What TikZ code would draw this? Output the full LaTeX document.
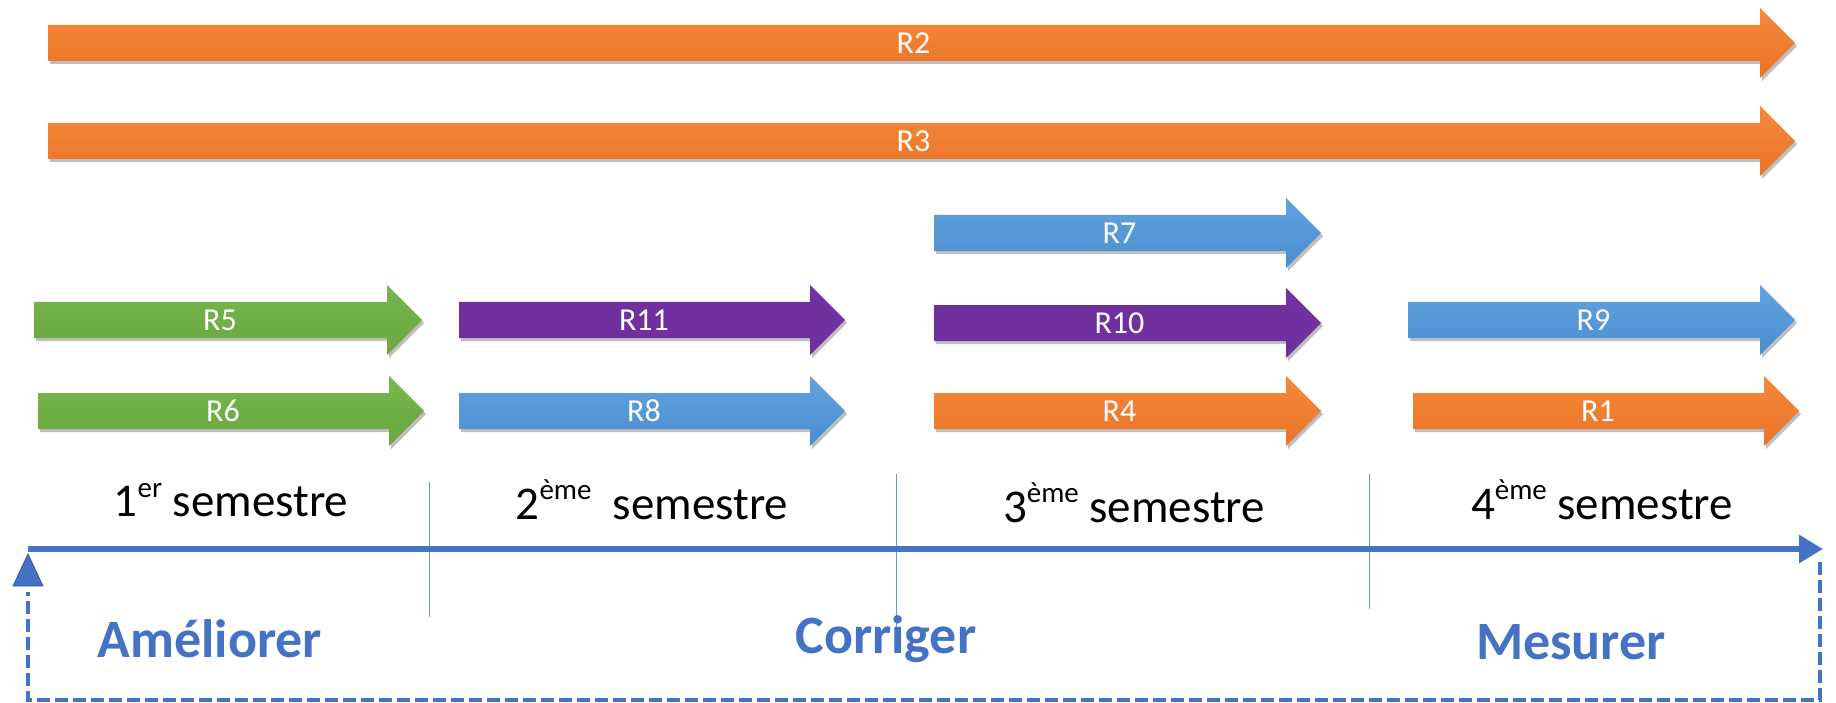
\documentclass[tikz,border=0pt]{standalone}
\usepackage{fontspec}
\setmainfont{Carlito}
\usetikzlibrary{shadows,arrows.meta}
\definecolor{orT}{HTML}{F38A3C}\definecolor{orB}{HTML}{EC7226}
\definecolor{grT}{HTML}{78B64F}\definecolor{grB}{HTML}{68A83F}
\definecolor{blT}{HTML}{62A2DE}\definecolor{blB}{HTML}{4A8ED1}
\definecolor{puT}{HTML}{7131A1}\definecolor{puB}{HTML}{6F2F9F}
\definecolor{tl}{HTML}{4472C4}
\newcommand\myarrow[6]{%
  \path[drop shadow={shadow xshift=2pt,shadow yshift=-3pt,opacity=0.25,fill=black},
        top color=#5T, bottom color=#5B]
    (#2,#4-18) -- (#3-35,#4-18) -- (#3-35,#4-35) -- (#3,#4) -- (#3-35,#4+35)
    -- (#3-35,#4+18) -- (#2,#4+18) -- cycle;
  \node[rlabel] (#1) at ({(#2+#3)/2-8},#4) {#6};
}
\newcommand\mysup[1]{\raisebox{0.42em}{\fontsize{29}{29}\selectfont #1}}
\begin{document}
\begin{tikzpicture}[x=1pt,y=-1pt,
  rlabel/.style={text=white,font=\fontsize{32}{32}\selectfont,inner sep=0pt},
  semlabel/.style={text=black,font=\fontsize{47}{52}\selectfont,inner sep=0pt},
  phase/.style={text=tl,font=\bfseries\fontsize{54}{60}\selectfont,inner sep=0pt},
  divider/.style={draw=tl!75,line width=1pt},
  loopline/.style={draw=tl,line width=4.2pt,dash pattern=on 13pt off 5pt}]
\useasboundingbox (0,0) rectangle (1836,703);
\fill[white] (0,0) rectangle (1836,703);

% dividers
\draw[divider] (429,482) coordinate (d1a) -- (429,617) coordinate (d1b);
\draw[divider] (896,474) coordinate (d2a) -- (896,642) coordinate (d2b);
\draw[divider] (1369,474) coordinate (d3a) -- (1369,609) coordinate (d3b);

% long arrows
\myarrow{r2}{48}{1795}{43}{or}{R2}
\myarrow{r3}{48}{1795}{141}{or}{R3}
% middle rows
\myarrow{r7}{934}{1321}{233}{bl}{R7}
\myarrow{r5}{34}{422}{320}{gr}{R5}
\myarrow{r11}{459}{845}{320}{pu}{R11}
\myarrow{r10}{934}{1321}{323}{pu}{R10}
\myarrow{r9}{1408}{1795}{320}{bl}{R9}
\myarrow{r6}{38}{424}{411}{gr}{R6}
\myarrow{r8}{459}{845}{411}{bl}{R8}
\myarrow{r4}{934}{1321}{411}{or}{R4}
\myarrow{r1}{1413}{1799}{411}{or}{R1}

% semester labels
\node[semlabel] (s1) at (231,500) {1\mysup{er} semestre};
\node[semlabel] (s2) at (652,500) {2\mysup{ème}\ \ semestre};
\node[semlabel] (s3) at (1134,503) {3\mysup{ème} semestre};
\node[semlabel] (s4) at (1602,500) {4\mysup{ème} semestre};

% timeline
\coordinate (tstart) at (28,549);
\coordinate (tend) at (1823,549);
\draw[tl,line width=6pt,-{Triangle[length=24pt,width=27pt]}] (tstart) -- (tend);
\coordinate (tri) at (28,554);
\fill[tl] (tri) -- (13,586) -- (43,586) -- cycle;
\draw[tl!80!black,line width=0.8pt] (tri) -- (13,586) -- (43,586) -- cycle;

% dashed loop
\coordinate (la) at (1820,562);
\coordinate (lb) at (1820,700);
\coordinate (lc) at (28,700);
\coordinate (ld) at (28,592);
\draw[loopline] (la) -- (lb) -- (lc) -- (ld);

% phases
\node[phase] (p1) at (210,639) {Améliorer};
\node[phase] (p2) at (886,639) {Corriger};
\node[phase] (p3) at (1571,642) {Mesurer};
\end{tikzpicture}
\end{document}
